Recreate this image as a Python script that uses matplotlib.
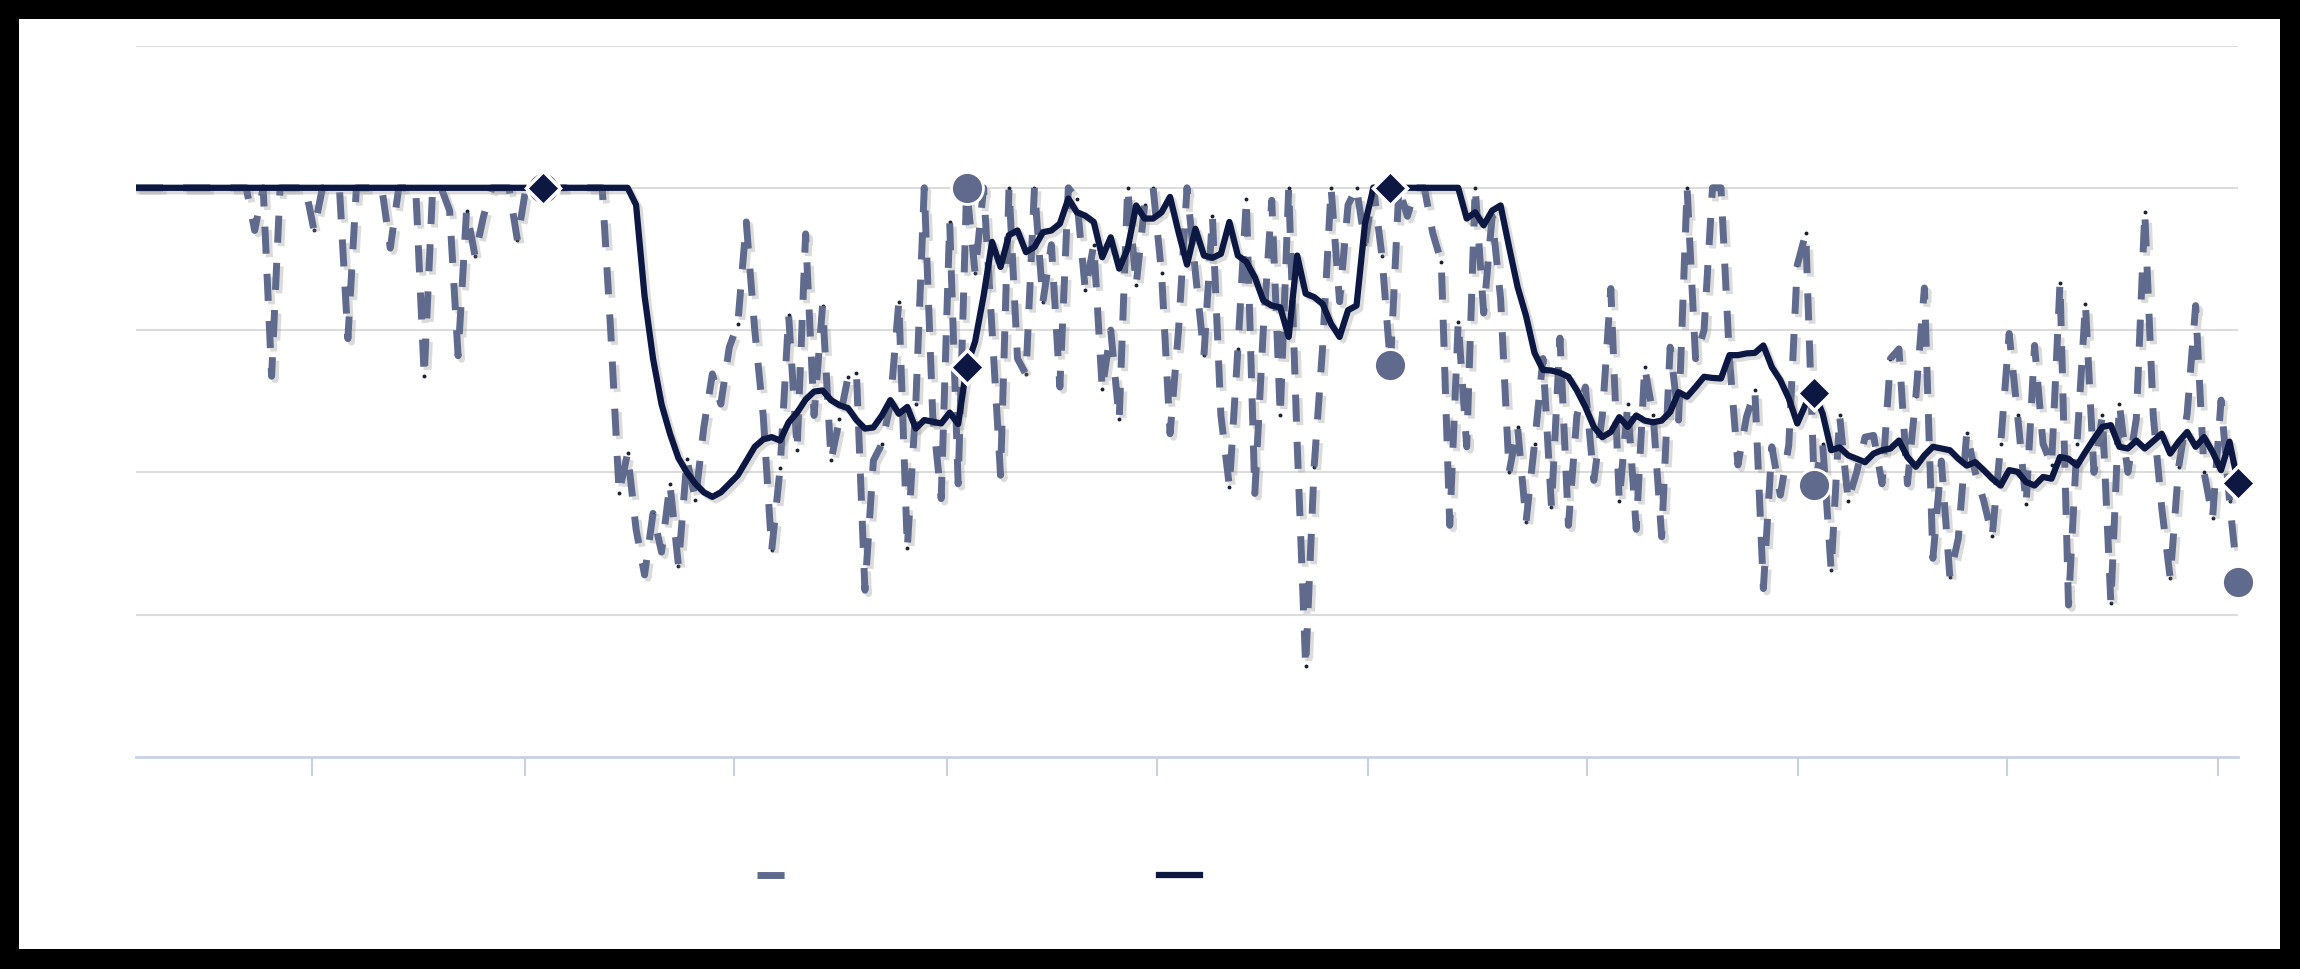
import numpy as np
import matplotlib
matplotlib.use("Agg")
import matplotlib.pyplot as plt
import matplotlib.patheffects as pe
from matplotlib.lines import Line2D
from matplotlib.patches import Rectangle

# values (0-125 scale, series capped at 100)
dashed = [
    100, 100, 100, 100, 100, 100, 100, 100, 100, 100, 100, 100, 100, 100, 92.5, 100, 66.9, 100, 100, 100,
    100, 92.5, 100, 100, 100, 73.5, 100, 100, 100, 100, 89.4, 100, 100, 100, 66.9, 100, 100, 96, 70.5, 96,
    88, 95, 100, 100, 100, 90.8, 100, 100, 100, 100, 100, 100, 100, 100, 100, 100, 75, 46.4, 53.4, 40,
    32, 42.8, 36, 48, 33.6, 52.3, 45.2, 58, 67.3, 62, 72, 76.1, 94, 75, 60, 36.3, 50.8, 77.6, 54, 91.9,
    60, 79.3, 52.1, 59.3, 66.7, 67.5, 29.3, 52.1, 55, 62, 80, 36.7, 62, 100, 60, 45.4, 94, 48, 100, 85,
    100, 75, 49.5, 100, 70, 67.2, 100, 80, 90, 65, 100, 98, 82, 90, 64.6, 75, 59.3, 100, 82.9, 97,
    100, 85, 56.8, 75, 100, 85, 70.6, 95, 60, 47.5, 71.6, 98, 46.3, 75, 97.8, 60, 100, 55, 15.9, 51,
    72, 100, 80, 97, 100, 90.2, 100, 88, 68.8, 100, 95, 100, 100, 92, 87, 40.7, 76.5, 54.5, 100, 78,
    95, 80.5, 50, 58, 41.3, 55, 70, 43.9, 73.6, 40.7, 60, 65, 48.6, 60, 82.3, 45, 62, 40, 68.5, 60,
    38.7, 72, 59.2, 100, 70, 75, 100, 100, 70, 51.3, 59.7, 64.4, 29.6, 54.5, 46, 54.8, 86.4, 92, 47.7, 55,
    32.8, 60, 45, 50, 56.2, 56.5, 48, 70, 71.7, 48, 63.5, 82.4, 34.9, 52, 31.7, 38.4, 57, 50, 45, 38.8,
    55, 74.4, 60, 44.4, 72.3, 55, 51.3, 83.3, 26.7, 55, 79.6, 50, 60, 27, 62, 50, 59.4, 95.7, 60, 43.8,
    31.4, 51, 60.3, 79.3, 50, 42, 62.7, 45, 30.7,
]

solid = [
    100, 100, 100, 100, 100, 100, 100, 100, 100, 100, 100, 100, 100, 100, 100, 100, 100, 100, 100, 100,
    100, 100, 100, 100, 100, 100, 100, 100, 100, 100, 100, 100, 100, 100, 100, 100, 100, 100, 100, 100,
    100, 100, 100, 100, 100, 100, 100, 100, 100, 100, 100, 100, 100, 100, 100, 100, 100, 100, 100,
    97, 81, 70, 62, 56.8, 52.5, 50, 48, 46.5, 45.7,
    46.5, 48, 49.5, 52, 54.5, 55.8, 56.2, 55.6, 58.8, 60.5,
    62.8, 64.2, 64.4, 62.7, 61.8, 61.3, 59.2, 57.7, 57.9, 60,
    62.7, 60.3, 61.5, 57.7, 59.2, 58.9, 58.6, 60.5, 58.5, 68.5,
    73, 81, 90.5, 86.1, 91.7, 92.5, 88.7, 89.6, 92.2, 92.5,
    93.7, 98.1, 95.7, 95.1, 94, 87.8, 91.3, 85.8, 89.3, 96.9,
    94.6, 94.6, 95.7, 98.4, 92.2, 86.5, 92.8, 88.1, 87.7, 88.4,
    94, 88.1, 87, 84.3, 80.2, 79.3, 79, 73.8, 88.1, 81.4,
    80.8, 79.6, 76.1, 73.8, 78.5, 79.3, 93.7, 100, 100, 100,
    100, 100, 100, 100, 100, 100, 100, 100, 94.6, 95.7,
    93.4, 96, 96.9, 89.6, 82.6, 77.5, 71, 68, 67.9, 67.5,
    66.8, 64.4, 61.5, 58, 56.2, 57.1, 59.7, 58, 60, 59.1,
    58.8, 59.1, 60.6, 64.1, 63.3, 65, 66.8, 66.6, 66.5, 70.6,
    70.6, 70.9, 71, 72.3, 68.5, 66.2, 63, 58.6, 62, 64,
    60.3, 53.9, 54.4, 53, 52.4, 51.8, 53.3, 53.9, 54.2, 55.6,
    52.7, 51, 53, 54.5, 54.2, 53.9, 52.4, 51.2, 51.8, 50.4,
    48.9, 47.7, 50.4, 50.1, 48.3, 47.7, 49.2, 48.9, 52.7, 52.4,
    51.2, 53.6, 55.9, 58, 58.3, 54.5, 54.2, 55.6, 54.2, 55.5,
    56.8, 53.3, 55.4, 57.1, 54.5, 56.2, 53.6, 50.4, 55.4, 48.1,
]

marker_idx = [48, 98, 148, 198, 248]
xtick_pos = [20.8, 45.9, 70.5, 95.7, 120.5, 145.4, 171.2, 196.1, 220.8, 245.6]
grid_levels = [25, 50, 75, 100, 125]

NAVY = "#0c1742"
SLATE = "#5f6a8d"
AXIS = "#c9d0e2"

x = np.arange(len(solid))
xd = np.arange(len(dashed))
dashed = np.array(dashed, dtype=float)
solid = np.array(solid, dtype=float)

fig = plt.figure(figsize=(23, 9.69), dpi=100, facecolor="black")
fig.add_artist(Rectangle((19 / 2300, 1 - 949 / 969), (2280 - 19) / 2300, (949 - 19) / 969,
                         transform=fig.transFigure, facecolor="white", edgecolor="none", zorder=-1))
ax = fig.add_axes([136 / 2300, 1 - 757 / 969, (2238 - 136) / 2300, (757 - 45.5) / 969])
ax.set_facecolor("white")

shadow = [pe.SimpleLineShadow(offset=(2.5, -2.5), shadow_color="#8a8a8a", alpha=0.3), pe.Normal()]

ax.plot(xd, dashed, ls="none", marker="o", ms=1.8, color="#1b2233", zorder=2)
ax.plot(xd, dashed, color=SLATE, lw=5, dashes=(3.9, 2.9), dash_capstyle="butt",
        path_effects=shadow, zorder=3)
ax.plot(x, solid, color=NAVY, lw=4.5, path_effects=shadow, zorder=4)

ax.plot(xd[marker_idx], dashed[marker_idx], ls="none", marker="o", ms=23,
        mfc=SLATE, mec="white", mew=2, zorder=5, clip_on=False)
ax.plot(x[marker_idx], solid[marker_idx], ls="none", marker="D", ms=17,
        mfc=NAVY, mec="white", mew=2.5, zorder=6, clip_on=False)

ax.set_xlim(0, len(solid) - 1)
ax.set_ylim(0, 125)
ax.set_yticks(grid_levels)
ax.yaxis.grid(True, color="#dcdcdc", lw=1.5)
ax.set_axisbelow(True)
ax.tick_params(axis="y", length=0, labelleft=False)
ax.set_xticks(xtick_pos)
ax.tick_params(axis="x", length=14, width=1.5, color=AXIS, labelbottom=False)
for side in ["top", "left", "right"]:
    ax.spines[side].set_visible(False)
ax.spines["bottom"].set_color(AXIS)
ax.spines["bottom"].set_linewidth(2)

handles = [
    Line2D([], [], color=SLATE, lw=5, dashes=(3.9, 2.9), dash_capstyle="butt"),
    Line2D([], [], color=NAVY, lw=4.5),
]
fig.legend(handles, ["", ""], loc="center left", bbox_to_anchor=(757 / 2300, 1 - 876 / 969),
           ncol=2, frameon=False, borderaxespad=0, borderpad=0,
           handlelength=2.95, handletextpad=0, columnspacing=26.0)

fig.savefig("out.png", dpi=100, facecolor=fig.get_facecolor())
